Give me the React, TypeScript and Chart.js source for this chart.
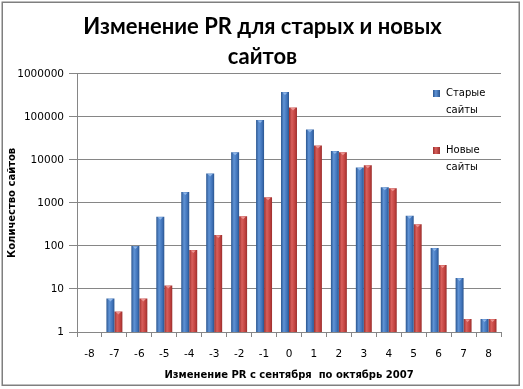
import React, { useEffect, useRef } from 'react';
import { Chart, registerables } from 'chart.js';

Chart.register(...registerables);

const categories = ['-8', '-7', '-6', '-5', '-4', '-3', '-2', '-1', '0', '1', '2', '3', '4', '5', '6', '7', '8'];
const oldSites = [null, 6, 100, 480, 1800, 4800, 15000, 85000, 380000, 51000, 16000, 6700, 2300, 500, 90, 18, 2];
const newSites = [null, 3, 6, 12, 80, 180, 490, 1350, 165000, 21500, 15000, 7500, 2200, 320, 36, 2, 2];
const yTickValues = [1, 10, 100, 1000, 10000, 100000, 1000000];
const seriesNames = ['Старые сайты', 'Новые сайты'];
const legendLines = [['Старые', 'сайты'], ['Новые', 'сайты']];
const titleLines = ['Изменение PR для старых и новых', 'сайтов'];
const xTitle = 'Изменение PR с сентября  по октябрь 2007';
const yTitle = 'Количество сайтов';

const BAR_FRACTION = 0.64;
const palette = [
  { dark: '#2a558f', light: '#5f93d6', mid: '#3f72b8', cap: '#8fb6e8' },
  { dark: '#9a2f2d', light: '#d95f5b', mid: '#c0413e', cap: '#ec9592' },
];

function barFill(ctx: any) {
  const p = palette[ctx.datasetIndex];
  const chart = ctx.chart;
  const xs = chart.scales && chart.scales.x;
  if (!xs || ctx.type !== 'data' || !isFinite(xs.width) || xs.width <= 0) return p.mid;
  const cat = xs.width / categories.length;
  const bw = (cat * BAR_FRACTION) / 2;
  const center = xs.getPixelForValue(ctx.dataIndex);
  const left = center - bw + ctx.datasetIndex * bw;
  const g = chart.ctx.createLinearGradient(left, 0, left + bw, 0);
  g.addColorStop(0, p.dark);
  g.addColorStop(0.35, p.light);
  g.addColorStop(0.75, p.mid);
  g.addColorStop(1, p.dark);
  return g;
}

const capPlugin = {
  id: 'barCaps',
  afterDatasetsDraw(chart: any) {
    const c = chart.ctx;
    c.save();
    chart.data.datasets.forEach((_: any, di: number) => {
      const meta = chart.getDatasetMeta(di);
      meta.data.forEach((el: any, i: number) => {
        const v = chart.data.datasets[di].data[i];
        if (v == null) return;
        const w = el.width;
        const l = el.x - w / 2;
        c.fillStyle = palette[di].cap;
        c.beginPath();
        c.moveTo(l + 1.5, el.y + 0.5);
        c.lineTo(l + w - 1.5, el.y + 0.5);
        c.lineTo(l + w / 2, el.y + 3);
        c.closePath();
        c.fill();
      });
    });
    c.restore();
  },
};

const framePlugin = {
  id: 'frame',
  afterDraw(chart: any) {
    const c = chart.ctx;
    c.save();
    c.strokeStyle = '#7f7f7f';
    c.lineWidth = 1.5;
    c.strokeRect(2.25, 2.25, 517, 383);
    c.restore();
  },
};

const legendPlugin = {
  id: 'customLegend',
  afterDraw(chart: any) {
    const c = chart.ctx;
    c.save();
    const boxX = 433;
    const tops = [90, 147];
    c.font = '10px "DejaVu Sans"';
    c.textBaseline = 'middle';
    c.fillStyle = '#000';
    legendLines.forEach((lines, i) => {
      const p = palette[i];
      const g = c.createLinearGradient(boxX, 0, boxX + 7, 0);
      g.addColorStop(0, p.dark);
      g.addColorStop(0.4, p.light);
      g.addColorStop(1, p.dark);
      c.fillStyle = g;
      c.fillRect(boxX, tops[i], 7, 7);
      c.fillStyle = '#000';
      lines.forEach((t, j) => {
        c.fillText(t, 446, tops[i] + 3.5 + j * 17);
      });
    });
    c.restore();
  },
};

export default function App() {
  const ref = useRef<HTMLCanvasElement>(null);
  useEffect(() => {
    if (!ref.current) return;
    const chart = new Chart(ref.current, {
      type: 'bar',
      data: {
        labels: categories,
        datasets: [
          { label: seriesNames[0], data: oldSites as any, backgroundColor: barFill as any, borderWidth: 0, yAxisID: 'y' },
          { label: seriesNames[1], data: newSites as any, backgroundColor: barFill as any, borderWidth: 0, yAxisID: 'y' },
        ],
      },
      options: {
        responsive: false,
        animation: false,
        devicePixelRatio: 1,
        layout: { padding: { left: 12, right: 10, top: 0, bottom: 0 } },
        datasets: { bar: { categoryPercentage: BAR_FRACTION, barPercentage: 1 } },
        plugins: {
          legend: { display: false },
          tooltip: { enabled: false },
          title: {
            display: true,
            text: titleLines,
            color: '#000',
            font: { family: 'Lato', size: 22, weight: 'bold', lineHeight: 1.36 },
            padding: { top: 12, bottom: 2 },
          },
        },
        scales: {
          x: {
            type: 'category',
            grid: { display: true, drawOnChartArea: false, drawTicks: true, tickLength: 5, color: '#868686', offset: true },
            border: { color: '#868686' },
            ticks: { color: '#000', font: { family: 'DejaVu Sans', size: 10.5 }, padding: 11, maxRotation: 0, autoSkip: false },
            title: {
              display: true,
              text: xTitle,
              color: '#000',
              font: { family: 'DejaVu Sans', size: 10, weight: 'bold' },
              padding: { top: 0, bottom: 8 },
            },
            afterFit: (s: any) => { s.height = 57; },
          },
          y: {
            type: 'logarithmic',
            position: 'left',
            min: 1,
            max: 1000000,
            afterBuildTicks: (s: any) => { s.ticks = yTickValues.map((v) => ({ value: v })); },
            grid: { color: '#868686', tickLength: 8, drawTicks: true },
            border: { color: '#868686' },
            ticks: {
              color: '#000',
              font: { family: 'DejaVu Sans', size: 10.5 },
              padding: 5,
              callback: (v: any) => String(v),
            },
            title: {
              display: true,
              text: yTitle,
              color: '#000',
              font: { family: 'DejaVu Sans', size: 10, weight: 'bold' },
              padding: { top: -6, bottom: 0 },
            },
            afterFit: (s: any) => { s.width = 65; },
          },
          spacer: {
            type: 'linear',
            position: 'right',
            display: true,
            grid: { display: false, drawTicks: false },
            border: { display: false },
            ticks: { display: false },
            afterFit: (s: any) => { s.width = 12; },
          },
        },
      },
      plugins: [capPlugin, legendPlugin, framePlugin],
    });
    return () => chart.destroy();
  }, []);
  return (
    <div style={{ position: 'fixed', left: 0, top: 0, width: 523, height: 389, background: '#fff' }}>
      <canvas ref={ref} width={523} height={389} style={{ display: 'block' }} />
    </div>
  );
}
